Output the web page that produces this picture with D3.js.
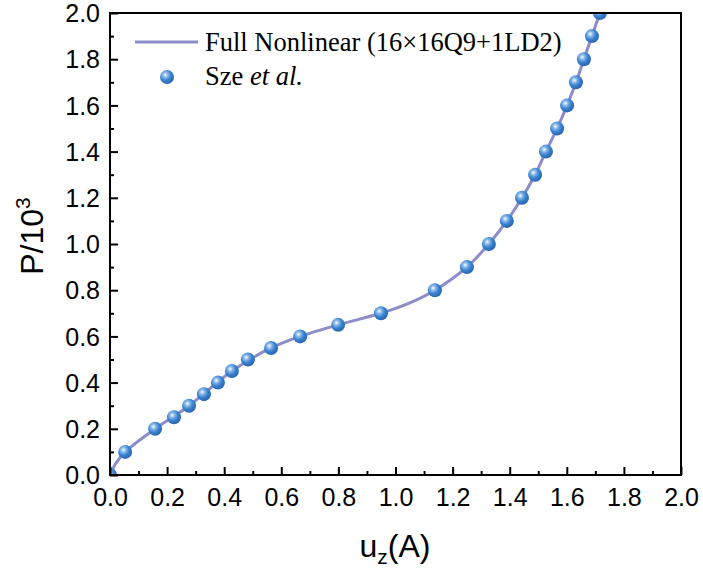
<!DOCTYPE html>
<html><head><meta charset="utf-8">
<script src="https://cdn.jsdelivr.net/npm/d3@7"></script>
<style>body{margin:0;background:#fff}</style>
</head><body>
<svg id="c" width="703" height="572"></svg>
<script>
const szeU = [0.053,0.158,0.224,0.277,0.329,0.378,0.427,0.483,0.564,0.666,0.799,0.949,1.138,1.250,1.327,1.390,1.443,1.489,1.527,1.566,1.601,1.632,1.660,1.688,1.716];
const szeP = [0.1,0.2,0.25,0.3,0.35,0.4,0.45,0.5,0.55,0.6,0.65,0.7,0.8,0.9,1.0,1.1,1.2,1.3,1.4,1.5,1.6,1.7,1.8,1.9,2.0];
const fullU = [0,0.02,0.053,0.158,0.277,0.427,0.564,0.666,0.799,0.949,1.05,1.138,1.250,1.327,1.390,1.443,1.489,1.527,1.566,1.601,1.632,1.660,1.688,1.716,1.73];
const fullP = [0,0.05,0.1,0.2,0.3,0.45,0.55,0.6,0.65,0.7,0.745,0.8,0.9,1.0,1.1,1.2,1.3,1.4,1.5,1.6,1.7,1.8,1.9,2.0,2.05];
const xTicks = [0,0.2,0.4,0.6,0.8,1.0,1.2,1.4,1.6,1.8,2.0];
const yTicks = [0,0.2,0.4,0.6,0.8,1.0,1.2,1.4,1.6,1.8,2.0];

const L=110,R=681,T=13,B=475;
const svg=d3.select('#c');
const x=d3.scaleLinear().domain([0,2]).range([L,R]);
const y=d3.scaleLinear().domain([0,2]).range([B,T]);

const defs=svg.append('defs');
const g=defs.append('radialGradient').attr('id','ball').attr('cx','38%').attr('cy','35%').attr('r','65%');
g.append('stop').attr('offset','0%').attr('stop-color','#ffffff');
g.append('stop').attr('offset','25%').attr('stop-color','#8fbcea');
g.append('stop').attr('offset','60%').attr('stop-color','#3b83d0');
g.append('stop').attr('offset','100%').attr('stop-color','#2a66b0');
defs.append('clipPath').attr('id','clip').append('rect').attr('x',L).attr('y',T).attr('width',R-L).attr('height',B-T);

const plot=svg.append('g').attr('clip-path','url(#clip)');
const lineData=fullU.map((u,i)=>[u,fullP[i]]);
plot.append('path').datum(lineData)
 .attr('d',d3.line().x(d=>x(d[0])).y(d=>y(d[1])).curve(d3.curveCatmullRom.alpha(0.5)))
 .attr('fill','none').attr('stroke','#8c8cca').attr('stroke-width',3);

const pts=[[0,0]].concat(szeU.map((u,i)=>[u,szeP[i]]));
plot.selectAll('circle.p').data(pts).enter().append('circle')
 .attr('cx',d=>x(d[0])).attr('cy',d=>y(d[1])).attr('r',7).attr('fill','url(#ball)');

svg.append('rect').attr('x',L).attr('y',T).attr('width',R-L).attr('height',B-T)
 .attr('fill','none').attr('stroke','#000').attr('stroke-width',2);

const xa=svg.append('g').attr('transform',`translate(0,${B})`)
 .call(d3.axisBottom(x).tickValues(xTicks).tickSize(-8).tickFormat(d3.format('.1f')).tickPadding(13));
const xm=svg.append('g').attr('transform',`translate(0,${B})`)
 .call(d3.axisBottom(x).tickValues(d3.range(0.1,2,0.2)).tickSize(-4).tickFormat(''));
const ya=svg.append('g').attr('transform',`translate(${L},0)`)
 .call(d3.axisLeft(y).tickValues(yTicks).tickSize(-8).tickFormat(d3.format('.1f')).tickPadding(10));
const ym=svg.append('g').attr('transform',`translate(${L},0)`)
 .call(d3.axisLeft(y).tickValues(d3.range(0.1,2,0.2)).tickSize(-4).tickFormat(''));
[xa,xm,ya,ym].forEach(a=>{a.select('.domain').remove();a.selectAll('line').attr('stroke','#000').attr('stroke-width',2);
 a.selectAll('text').attr('font-family','Liberation Sans, Arial, sans-serif').attr('font-size',25).attr('fill','#000');});
ya.selectAll('text').attr('dy','0.35em');

const xt=svg.append('text').attr('x',395).attr('y',557).attr('text-anchor','middle')
 .attr('font-family','Liberation Sans, Arial, sans-serif').attr('font-size',32).attr('fill','#000');
xt.append('tspan').text('u');
xt.append('tspan').attr('font-size',21).attr('dy',7).text('z');
xt.append('tspan').attr('dy',-7).text('(A)');
const yt=svg.append('text').attr('transform','translate(43,236) rotate(-90)').attr('text-anchor','middle')
 .attr('font-family','Liberation Sans, Arial, sans-serif').attr('font-size',32).attr('fill','#000');
yt.append('tspan').text('P/10');
yt.append('tspan').attr('font-size',21).attr('dy',-13).text('3');

svg.append('line').attr('x1',135).attr('x2',198).attr('y1',42).attr('y2',42).attr('stroke','#8c8cca').attr('stroke-width',3);
svg.append('text').attr('x',205).attr('y',51).attr('font-family','Liberation Serif, Times New Roman, serif').attr('font-size',26.5).text('Full Nonlinear (16×16Q9+1LD2)');
svg.append('circle').attr('cx',167).attr('cy',77).attr('r',7).attr('fill','url(#ball)');
const lt=svg.append('text').attr('x',205).attr('y',85).attr('font-family','Liberation Serif, Times New Roman, serif').attr('font-size',26.5);
lt.append('tspan').text('Sze ');
lt.append('tspan').attr('font-style','italic').text('et al.');
</script>
</body></html>
